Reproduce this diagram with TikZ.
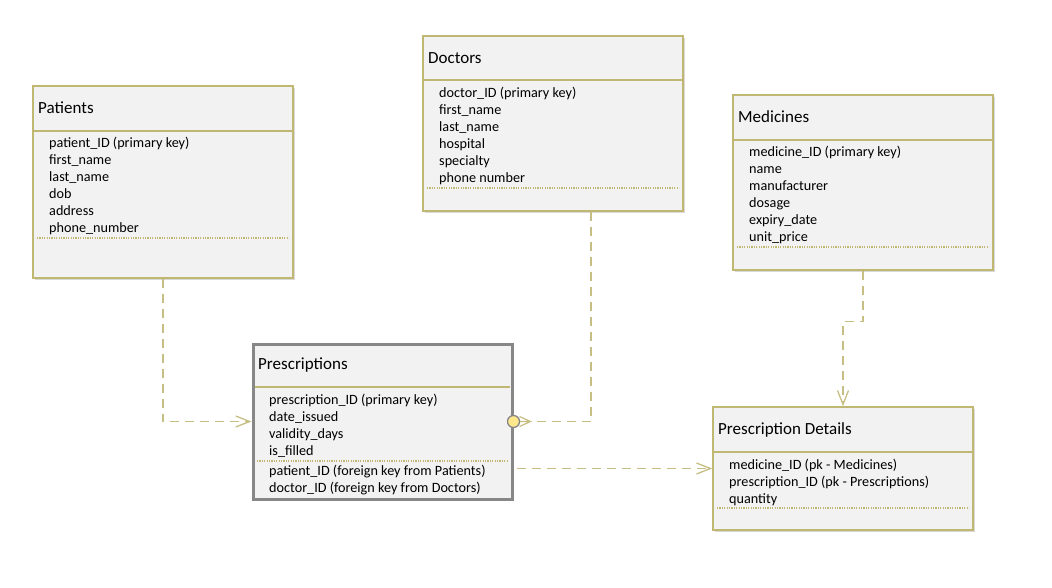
\documentclass[tikz,border=0pt]{standalone}
\usepackage{fontspec}
\setmainfont{Carlito}
\usetikzlibrary{arrows.meta, calc, positioning, shadows}
\definecolor{olive}{RGB}{192,183,115}
\definecolor{linkolive}{RGB}{198,190,130}
\definecolor{boxfill}{RGB}{242,242,242}
\definecolor{framegray}{RGB}{135,135,135}
\definecolor{optyellow}{RGB}{255,232,140}

\tikzset{
	entity/.style={draw=olive, line width=1.5pt, fill=boxfill, minimum width=260pt, inner sep=0pt,
		drop shadow={shadow xshift=2pt, shadow yshift=-2pt, fill=black, opacity=0.15}},
	entitytitle/.style={anchor=west, font=\fontsize{17}{20}\selectfont, inner sep=0pt},
	attrs/.style={anchor=north west, align=left, font=\fontsize{14.2}{17}\selectfont, inner sep=0pt},
	headline/.style={draw=olive, line width=1.5pt},
	sepline/.style={draw=olive, line width=1.1pt, dash pattern=on 1.2pt off 1.2pt},
	relline/.style={draw=linkolive, line width=1.3pt, dash pattern=on 9pt off 6pt},
	reltip/.style={-{Straight Barb[length=14pt,width=11pt,line width=1.3pt]}}
}

\begin{document}
\begin{tikzpicture}[x=1pt,y=-1pt]
		\useasboundingbox (0,0) rectangle (1052,588);
		
		% Patients
		\node(pat)  [entity, minimum height=192pt] at (163,182)  {};
		\node(pattitle)  [entitytitle] at (38,108)  {Patients};
		\draw[headline] (33,131) -- (293,131);
		\node(patattr)  [attrs] at (49,137)  {patient\_ID (primary key)\\first\_name\\last\_name\\dob\\address\\phone\_number};
		\draw[sepline] (37,238) -- (289,238);
		
		% Doctors
		\node(doc)  [entity, minimum height=175pt] at (553,123.5)  {};
		\node(doctitle)  [entitytitle] at (428,58)  {Doctors};
		\draw[headline] (423,80) -- (683,80);
		\node(docattr)  [attrs] at (439,87)  {doctor\_ID (primary key)\\first\_name\\last\_name\\hospital\\specialty\\phone number};
		\draw[sepline] (427,188) -- (679,188);
		
		% Medicines
		\node(med)  [entity, minimum height=175pt] at (863,182.5)  {};
		\node(medtitle)  [entitytitle] at (738,117)  {Medicines};
		\draw[headline] (733,140) -- (993,140);
		\node(medattr)  [attrs] at (749,146)  {medicine\_ID (primary key)\\name\\manufacturer\\dosage\\expiry\_date\\unit\_price};
		\draw[sepline] (737,247) -- (989,247);
		
		% Prescriptions
		\node(pre)  [entity, draw=framegray, line width=3pt, minimum width=259pt, minimum height=155pt] at (382.5,421.5)  {};
		\node(pretitle)  [entitytitle] at (258,365)  {Prescriptions};
		\draw[headline] (255,387) -- (510,387);
		\node(preattr)  [attrs] at (269,394)  {prescription\_ID (primary key)\\date\_issued\\validity\_days\\is\_filled};
		\draw[sepline] (257,461) -- (508,461);
		\node(prefk)  [attrs] at (269,465)  {patient\_ID (foreign key from Patients)\\doctor\_ID (foreign key from Doctors)};
		
		% Prescription Details
		\node(det)  [entity, minimum height=123pt] at (843,468.5)  {};
		\node(dettitle)  [entitytitle] at (718,430)  {Prescription Details};
		\draw[headline] (713,452) -- (973,452);
		\node(detattr)  [attrs] at (729,459)  {medicine\_ID (pk - Medicines)\\prescription\_ID (pk - Prescriptions)\\quantity};
		\draw[sepline] (717,508) -- (969,508);
		
		% relations
		\draw[relline, reltip] (pat.south) |- (pre.west);
		\coordinate(crow) at ($(pre.east)+(17,0)$);
		\draw[relline] ($(doc.south)+(38,0)$) |- (crow);
		\draw[draw=linkolive, line width=1.2pt] (crow) -- ++(-11,-5) (crow) -- ++(-11,0) (crow) -- ++(-11,5);
		\node(opt)  [circle, draw=framegray, fill=optyellow, line width=1.3pt, minimum size=12pt, inner sep=0pt] at (pre.east)  {};
		\draw[relline, reltip] (med.south) -- ++(0,51) -| (det.north);
		\draw[relline, reltip] ($(pre.east |- det.west)+(3,0)$) -- (det.west);
		
\end{tikzpicture}
\end{document}
